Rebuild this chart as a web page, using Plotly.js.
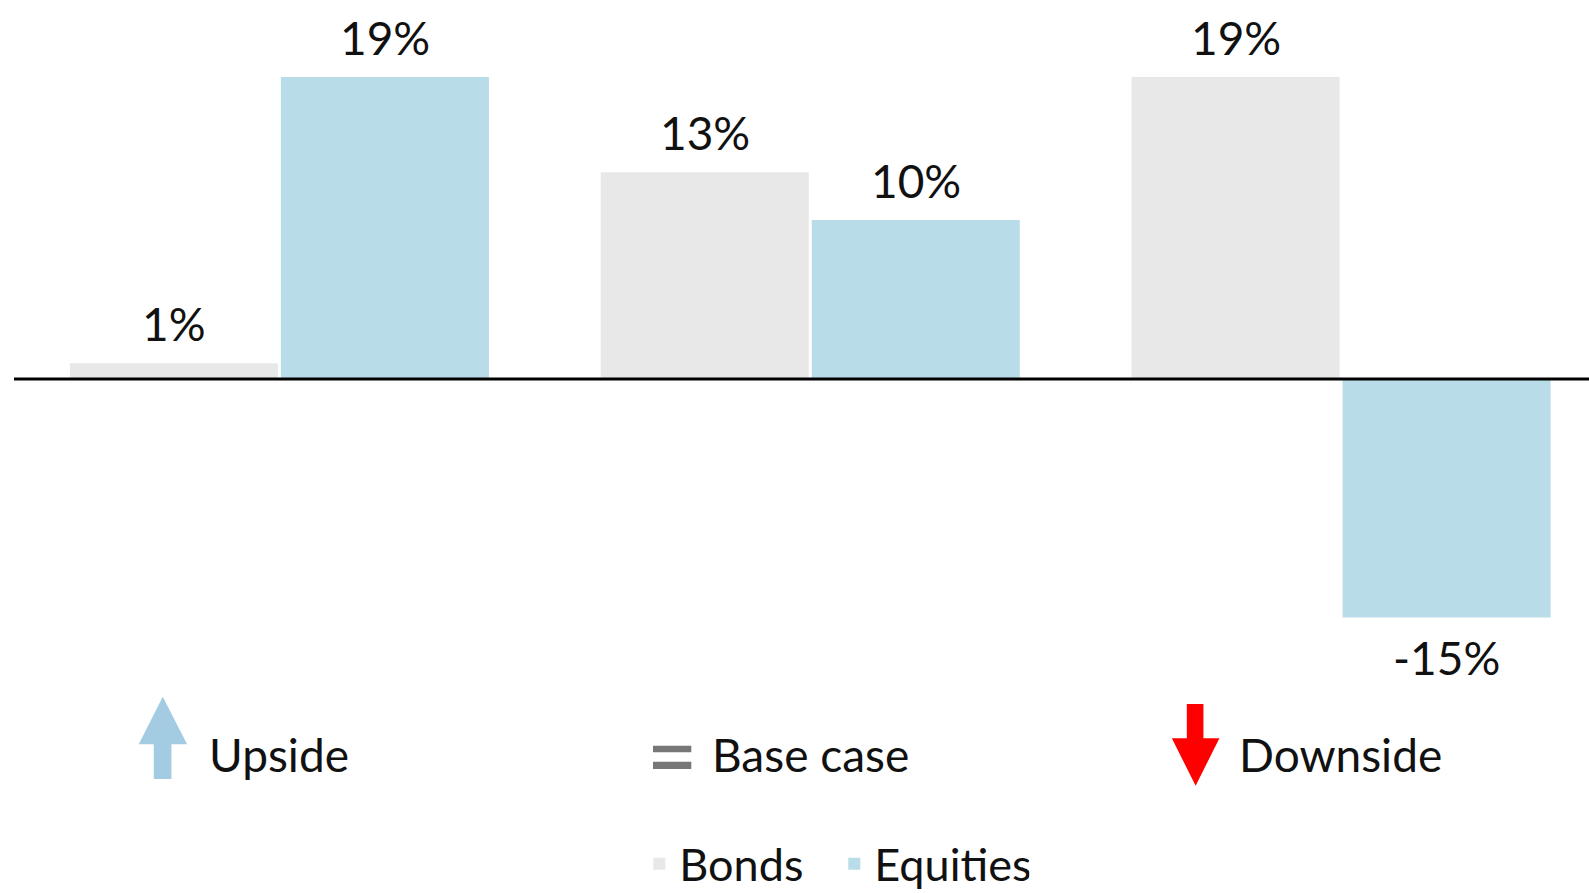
<!DOCTYPE html>
<html>
<head>
<meta charset="utf-8">
<script src="https://cdn.plot.ly/plotly-3.0.1.min.js"></script>
<style>html,body{margin:0;padding:0;background:#fff;}#chart{width:1589px;height:893px;}</style>
</head>
<body>
<div id="chart"></div>
<script>
// ---- data ----
const scenarios = ["Upside", "Base case", "Downside"];
const seriesNames = ["Bonds", "Equities"];
const bonds = [1, 13, 19];
const equities = [19, 10, -15];
const bondLabels = ["1%", "13%", "19%"];
const equityLabels = ["19%", "10%", "-15%"];

// ---- layout constants ----
const W = 1589, H = 893;
const M = {l: 13.5, r: 0, t: 14, b: 268, autoexpand: false};
const plotW = W - M.l - M.r, plotH = H - M.t - M.b;
const BARGAP = 0.205, BARGROUPGAP = 0.014;
const FONT = "Lato, 'Noto Sans', sans-serif";
const colors = {Bonds: "#e8e8e8", Equities: "#b9dde8"};

const px = p => (p - M.l) / plotW;            // pixel x -> paper x
const py = p => (H - M.b - p) / plotH;        // pixel y -> paper y

const idx = scenarios.map((_, i) => i);
const traces = [
  {type: "bar", name: seriesNames[0], x: idx, y: bonds, marker: {color: colors.Bonds}, hoverinfo: "skip"},
  {type: "bar", name: seriesNames[1], x: idx, y: equities, marker: {color: colors.Equities}, hoverinfo: "skip"}
];

// value labels above / below bars
const off = (1 - BARGAP) / 4;
const annotations = [];
[[bonds, bondLabels, -off], [equities, equityLabels, off]].forEach(([vals, labs, o]) => {
  vals.forEach((v, i) => {
    annotations.push({
      x: i + o, y: v, xref: "x", yref: "y", text: labs[i], showarrow: false,
      xanchor: "center", yanchor: v >= 0 ? "bottom" : "top", yshift: v >= 0 ? 10 : -10,
      font: {family: FONT, size: 46, color: "#111"}
    });
  });
});

// scenario labels with icons
const scenLeft = [206.5, 710, 1236.5];
scenarios.forEach((s, i) => {
  annotations.push({
    x: px(scenLeft[i]), y: py(754), xref: "paper", yref: "paper", text: s, showarrow: false,
    xanchor: "left", yanchor: "middle", font: {family: FONT, size: 46, color: "#111"}
  });
});

function poly(pts) {
  return "M" + pts.map(p => px(p[0]).toFixed(5) + "," + py(p[1]).toFixed(5)).join("L") + "Z";
}
const shapes = [
  {type: "line", xref: "paper", yref: "y", x0: 0, x1: 1, y0: 0, y1: 0, line: {color: "#000", width: 3}, layer: "above"},
  {type: "path", xref: "paper", yref: "paper", fillcolor: "#a3cce3", line: {width: 0},
   path: poly([[162.3,696.7],[186.7,744.3],[171,744.3],[171,779],[153.3,779],[153.3,744.3],[138.3,744.3]])},
  {type: "rect", xref: "paper", yref: "paper", x0: px(652.7), x1: px(691), y0: py(752.3), y1: py(745.7), fillcolor: "#777777", line: {width: 0}},
  {type: "rect", xref: "paper", yref: "paper", x0: px(652.7), x1: px(691), y0: py(769), y1: py(761.7), fillcolor: "#777777", line: {width: 0}},
  {type: "path", xref: "paper", yref: "paper", fillcolor: "#ff0000", line: {width: 0},
   path: poly([[1186.7,704],[1203.3,704],[1203.3,738.3],[1219.3,738.3],[1195.5,785.7],[1171.7,738.3],[1186.7,738.3]])}
];

const layout = {
  width: W, height: H,
  margin: M,
  paper_bgcolor: "#fff", plot_bgcolor: "#fff",
  barmode: "group", bargap: BARGAP, bargroupgap: BARGROUPGAP,
  font: {family: FONT, color: "#111"},
  xaxis: {range: [-0.5, (W - M.l) / plotW * 2.967 - 0.5], visible: false, fixedrange: true},
  yaxis: {range: [-15.47, 22.96], visible: false, fixedrange: true},
  showlegend: true,
  legend: {orientation: "h", x: px(639), xanchor: "left", y: py(864), yanchor: "middle",
           entrywidth: 150, entrywidthmode: "pixels",
           font: {family: FONT, size: 45, color: "#111"}, itemclick: false, itemdoubleclick: false},
  annotations: annotations,
  shapes: shapes
};

Plotly.newPlot("chart", traces, layout, {staticPlot: true, displayModeBar: false});
</script>
</body>
</html>
